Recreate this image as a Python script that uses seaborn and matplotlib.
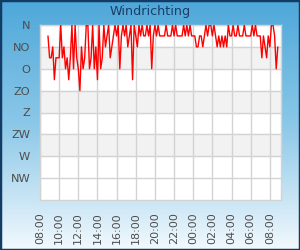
import numpy as np
import pandas as pd
import matplotlib
matplotlib.use("Agg")
import matplotlib.pyplot as plt
import matplotlib.dates as mdates
import seaborn as sns

# wind direction in degrees (N=0, NO=45, O=90 ...), one reading every 10 minutes
start = "2024-05-01 08:50"
richting_a = [22.5, 67.5, 67.5, 45, 112.5, 67.5, 67.5, 67.5, 0, 67.5, 45, 90, 67.5]
richting_b = [112.5, 67.5, 0, 90, 0, 67.5, 90, 135, 45, 90, 67.5, 0]
richting_c = [0, 90, 67.5, 0, 90, 45, 112.5, 0, 90, 67.5, 0, 45]
richting_d = [22.5, 0, 67.5, 45, 22.5, 0, 22.5, 0, 90, 22.5, 0, 22.5]
richting_e = [0, 45, 22.5, 0, 112.5, 0, 22.5, 45, 0, 22.5, 0, 22.5]
richting_f = [22.5, 0, 22.5, 0, 90, 22.5, 0, 22.5, 0, 22.5, 22.5, 22.5]
richting_g = [22.5, 0, 22.5, 22.5, 22.5, 0, 22.5, 0, 22.5, 22.5, 22.5, 22.5]
richting_h = [0, 22.5, 0, 22.5, 0, 22.5, 22.5, 22.5, 45, 45, 22.5, 22.5]
richting_i = [45, 22.5, 0, 22.5, 0, 0, 22.5, 0, 22.5, 45, 22.5, 45]
richting_j = [22.5, 45, 22.5, 45, 0, 22.5, 22.5, 0, 22.5, 22.5, 0, 22.5]
richting_k = [22.5, 22.5, 0, 22.5, 22.5, 22.5, 22.5, 0, 22.5, 0, 22.5, 22.5]
richting_l = [22.5, 67.5, 22.5, 45, 67.5, 22.5, 45, 0, 0, 22.5, 90, 45]

richting = (richting_a + richting_b + richting_c + richting_d + richting_e + richting_f
            + richting_g + richting_h + richting_i + richting_j + richting_k + richting_l)
tijd = pd.date_range(start, periods=len(richting), freq="10min")
df = pd.DataFrame({"tijd": tijd, "richting": richting})

y_labels = ["N", "NO", "O", "ZO", "Z", "ZW", "W", "NW"]
y_ticks = [0, 45, 90, 135, 180, 225, 270, 315]

sns.set_style("white")
plt.rcParams["font.family"] = ["DejaVu Sans"]

fig = plt.figure(figsize=(3, 2.5), dpi=100)

# blue gradient background
bg = fig.add_axes([0, 0, 1, 1], zorder=-10)
grad = np.linspace(0, 1, 256).reshape(-1, 1)
cmap = matplotlib.colors.LinearSegmentedColormap.from_list(
    "bg", ["#4ea7d9", "#8cc8e8", "#f2f9fd"])
bg.imshow(grad, aspect="auto", cmap=cmap, extent=[0, 1, 0, 1])
bg.set_axis_off()
fig.patches.append(plt.Rectangle((0, 0), 1, 1, transform=fig.transFigure,
                                 fill=False, edgecolor="#123c66", linewidth=2.5))

ax = fig.add_axes([40 / 300, 50 / 250, 241 / 300, 175 / 250])
ax.set_facecolor("white")
for lo in [45, 135, 225]:
    ax.axhspan(lo, lo + 45, color="#f2f2f2", zorder=0)

sns.lineplot(data=df, x="tijd", y="richting", color="red", linewidth=1, ax=ax, zorder=3)

ax.set_ylim(360, 0)
ax.set_yticks(y_ticks)
ax.set_yticklabels(y_labels)
x0 = pd.Timestamp("2024-05-01 08:00")
ax.set_xlim(x0, x0 + pd.Timedelta(minutes=1510))
ax.set_xticks(pd.date_range(x0, periods=13, freq="2h"))
ax.xaxis.set_major_formatter(mdates.DateFormatter("%H:%M"))
ax.tick_params(axis="x", rotation=90, labelsize=8, colors="#4d4d4d", length=0, pad=9)
ax.tick_params(axis="y", labelsize=8.2, colors="#4d4d4d", length=0, pad=7)
ax.grid(True, color="#d3d3d3", linewidth=1)
ax.set_axisbelow(True)
for s in ax.spines.values():
    s.set_color("#d3d3d3")
    s.set_linewidth(1)
ax.set_xlabel("")
ax.set_ylabel("")

fig.text(0.5, 0.955, "Windrichting", ha="center", va="center", fontsize=9.2, color="#1b3d66")

fig.savefig("out.png", dpi=100)
